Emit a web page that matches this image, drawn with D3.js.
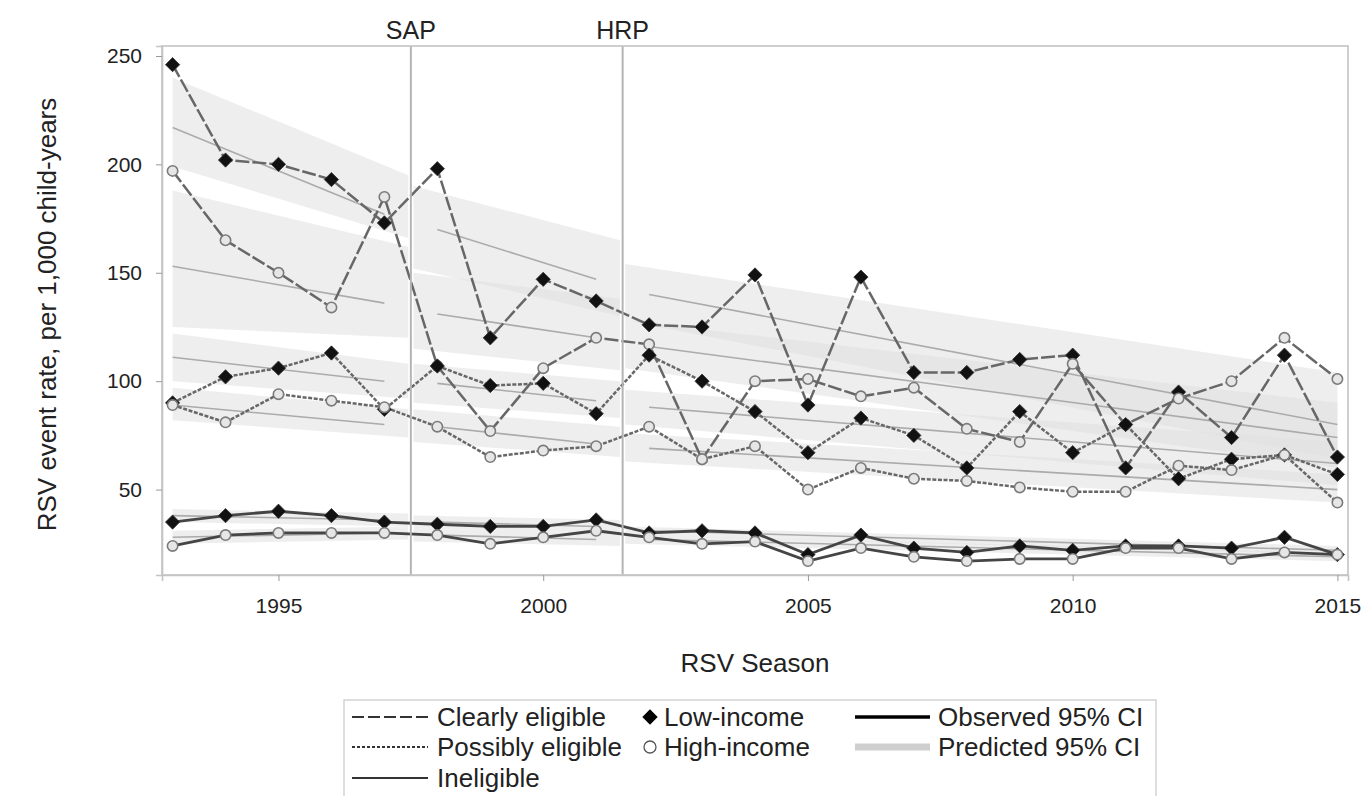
<!DOCTYPE html>
<html><head><meta charset="utf-8">
<script src="https://cdn.jsdelivr.net/npm/d3@7"></script>
<style>
html,body{margin:0;padding:0;background:#fff;}
svg{display:block;font-family:"Liberation Sans",Arial,sans-serif;}
</style></head>
<body><svg id="c" width="1369" height="796"></svg>
<script>
// ---------- data ----------
const years = [1993,1994,1995,1996,1997,1998,1999,2000,2001,2002,2003,2004,2005,2006,2007,2008,2009,2010,2011,2012,2013,2014,2015];
const clearlyLow   = [246,202,200,193,173,198,120,147,137,126,125,149,89,148,104,104,110,112,60,95,74,112,65];
const clearlyHigh  = [197,165,150,134,185,107,77,106,120,117,64,100,101,93,97,78,72,108,80,92,100,120,101];
const possiblyLow  = [90,102,106,113,87,107,98,99,85,112,100,86,67,83,75,60,86,67,80,55,64,66,57];
const possiblyHigh = [89,81,94,91,88,79,65,68,70,79,64,70,50,60,55,54,51,49,49,61,59,66,44];
const ineligLow    = [35,38,40,38,35,34,33,33,36,30,31,30,20,29,23,21,24,22,24,24,23,28,20];
const ineligHigh   = [24,29,30,30,30,29,25,28,31,28,25,26,17,23,19,17,18,18,23,23,18,21,20];

// segmented predicted fit: [start value, end value] per period
const segments     = [[1993,1997],[1998,2001],[2002,2015]];
const bandSpans    = [[1993,1997.45],[1997.55,2001.45],[2001.55,2015]];
const predClearlyLow   = [[217,177],[170,147],[140,80]];
const predClearlyHigh  = [[153,136],[131,120],[116,74]];
const predPossiblyLow  = [[111,100],[99,91],[88,62]];
const predPossiblyHigh = [[89,80],[79,71],[69,50]];
const predIneligLow    = [[38,36],[35,33],[31,22]];
const predIneligHigh   = [[28,30],[29,27],[27,19]];
// predicted 95% CI: [lower start, upper start, lower end, upper end]
const bandClearlyLow   = [[199,240,166,195],[152,190,130,165],[128,154,64,104]];
const bandClearlyHigh  = [[125,188,120,162],[115,150,105,138],[106,128,60,90]];
const bandPossiblyLow  = [[100,122,92,108],[90,108,83,100],[80,96,52,72]];
const bandPossiblyHigh = [[82,97,74,87],[72,87,65,79],[63,76,44,57]];
const bandIneligLow    = [[35,41,33,39],[32,38,30,36],[29,33,20,24]];
const bandIneligHigh   = [[25,31,27,33],[26,32,24,30],[25,29,17,21]];

const xTicks = [1995,2000,2005,2010,2015];
const yTicks = [50,100,150,200,250];
const refLines = [{label:"SAP", year:1997.5},{label:"HRP", year:2001.5}];

const seriesList = [
  {vals:clearlyLow,   pred:predClearlyLow,   band:bandClearlyLow,   style:"dash", marker:"diamond"},
  {vals:clearlyHigh,  pred:predClearlyHigh,  band:bandClearlyHigh,  style:"dash", marker:"circle"},
  {vals:possiblyLow,  pred:predPossiblyLow,  band:bandPossiblyLow,  style:"dot",  marker:"diamond"},
  {vals:possiblyHigh, pred:predPossiblyHigh, band:bandPossiblyHigh, style:"dot",  marker:"circle"},
  {vals:ineligLow,    pred:predIneligLow,    band:bandIneligLow,    style:"solid",marker:"diamond"},
  {vals:ineligHigh,   pred:predIneligHigh,   band:bandIneligHigh,   style:"solid",marker:"circle"}
];

// ---------- layout ----------
const L=162, R=1348, T=46, B=575;
const FONT="'Liberation Sans',Arial,sans-serif";
const svg = d3.select("#c");
const x = d3.scaleLinear().domain([1992.8, 2015.2]).range([L, R]);
const y = d3.scaleLinear().domain([10.6, 254.6]).range([B, T]);

svg.append("defs").append("clipPath").attr("id","pc")
  .append("rect").attr("x",L).attr("y",T).attr("width",R-L).attr("height",B-T);
const plot = svg.append("g").attr("clip-path","url(#pc)");

// bands
seriesList.forEach(s=>{
  s.band.forEach((b,i)=>{
    const sp = bandSpans[i];
    const pts = [[sp[0],b[1]],[sp[1],b[3]],[sp[1],b[2]],[sp[0],b[0]]];
    plot.append("path")
      .attr("d", d3.line().x(d=>x(d[0])).y(d=>y(d[1]))(pts)+"Z")
      .attr("fill","#e0e0e0").attr("fill-opacity",0.55).attr("stroke","none");
  });
});
// fitted lines
seriesList.forEach(s=>{
  s.pred.forEach((p,i)=>{
    const sg = segments[i];
    plot.append("line")
      .attr("x1",x(sg[0])).attr("y1",y(p[0]))
      .attr("x2",x(sg[1])).attr("y2",y(p[1]))
      .attr("stroke","#ababab").attr("stroke-width",1.6);
  });
});

// reference lines
refLines.forEach(r=>{
  svg.append("line").attr("x1",x(r.year)).attr("x2",x(r.year)).attr("y1",T).attr("y2",B)
    .attr("stroke","#b4b4b4").attr("stroke-width",2);
  svg.append("text").attr("x",x(r.year)).attr("y",39).attr("text-anchor","middle")
    .attr("font-size",25).attr("fill","#222").text(r.label);
});

// observed lines
const dashes = {dash:"14,3", dot:"4,1.6", solid:null};
const lineGen = d3.line().x((d,i)=>x(years[i])).y(d=>y(d));
seriesList.forEach(s=>{
  plot.append("path").attr("d",lineGen(s.vals)).attr("fill","none")
    .attr("stroke", s.style==="solid" ? "#454545" : "#676767")
    .attr("stroke-width", s.style==="solid" ? 2.8 : 2.5)
    .attr("stroke-dasharray", dashes[s.style]);
});
// markers
const diamond = d3.symbol().type(d3.symbolDiamond2).size(130);
seriesList.forEach(s=>{
  const g = plot.append("g");
  s.vals.forEach((v,i)=>{
    if (s.marker==="diamond") {
      g.append("path").attr("d",diamond()).attr("transform",`translate(${x(years[i])},${y(v)})`)
        .attr("fill","#111").attr("stroke","#333").attr("stroke-width",0.8);
    } else {
      g.append("circle").attr("cx",x(years[i])).attr("cy",y(v)).attr("r",5.2)
        .attr("fill","#e6e6e6").attr("stroke","#7a7a7a").attr("stroke-width",1.6);
    }
  });
});

// frame & axes
svg.append("rect").attr("x",L).attr("y",T).attr("width",R-L).attr("height",B-T)
  .attr("fill","none").attr("stroke","#c4c4c4").attr("stroke-width",1.6);

const xAxis = svg.append("g").attr("transform",`translate(0,${B})`)
  .call(d3.axisBottom(x).tickValues(xTicks).tickFormat(d3.format("d")).tickSize(6).tickPadding(17));
const yAxis = svg.append("g").attr("transform",`translate(${L},0)`)
  .call(d3.axisLeft(y).tickValues(yTicks).tickSize(6).tickPadding(14));
[xAxis,yAxis].forEach(a=>{
  a.select(".domain").attr("stroke","#c4c4c4").attr("stroke-width",1.6);
  a.selectAll(".tick line").attr("stroke","#999");
  a.selectAll(".tick text").attr("font-size",21).attr("fill","#222").attr("font-family",FONT);
});

svg.append("text").attr("x",(L+R)/2).attr("y",672).attr("text-anchor","middle")
  .attr("font-size",26).attr("fill","#222").text("RSV Season");
svg.append("text").attr("transform",`translate(56,${(T+B)/2+4}) rotate(-90)`)
  .attr("text-anchor","middle").attr("font-size",26).attr("fill","#222")
  .text("RSV event rate, per 1,000 child-years");

// legend
const lg = svg.append("g");
lg.append("rect").attr("x",344).attr("y",700).attr("width",812).attr("height",110)
  .attr("fill","#fff").attr("stroke","#d0d0d0").attr("stroke-width",1.4);
const rowY = [717,747,778];
const fs = 26;
function ltext(xx,yy,t){ lg.append("text").attr("x",xx).attr("y",yy+9).attr("font-size",fs).attr("fill","#222").text(t); }
// col 1
[["12,4","Clearly eligible"],["3,2","Possibly eligible"],[null,"Ineligible"]].forEach((d,i)=>{
  lg.append("line").attr("x1",352).attr("x2",428).attr("y1",rowY[i]).attr("y2",rowY[i])
    .attr("stroke","#333").attr("stroke-width",2).attr("stroke-dasharray",d[0]);
  ltext(437,rowY[i],d[1]);
});
// col 2
lg.append("path").attr("d",d3.symbol().type(d3.symbolDiamond2).size(150)())
  .attr("transform",`translate(650,${rowY[0]})`).attr("fill","#000");
ltext(664,rowY[0],"Low-income");
lg.append("circle").attr("cx",650).attr("cy",rowY[1]).attr("r",6)
  .attr("fill","#fff").attr("stroke","#555").attr("stroke-width",1.3);
ltext(664,rowY[1],"High-income");
// col 3
lg.append("line").attr("x1",855).attr("x2",930).attr("y1",rowY[0]).attr("y2",rowY[0])
  .attr("stroke","#000").attr("stroke-width",3.5);
ltext(938,rowY[0],"Observed 95% CI");
lg.append("line").attr("x1",855).attr("x2",930).attr("y1",rowY[1]).attr("y2",rowY[1])
  .attr("stroke","#cfcfcf").attr("stroke-width",7);
ltext(938,rowY[1],"Predicted 95% CI");
</script></body></html>
